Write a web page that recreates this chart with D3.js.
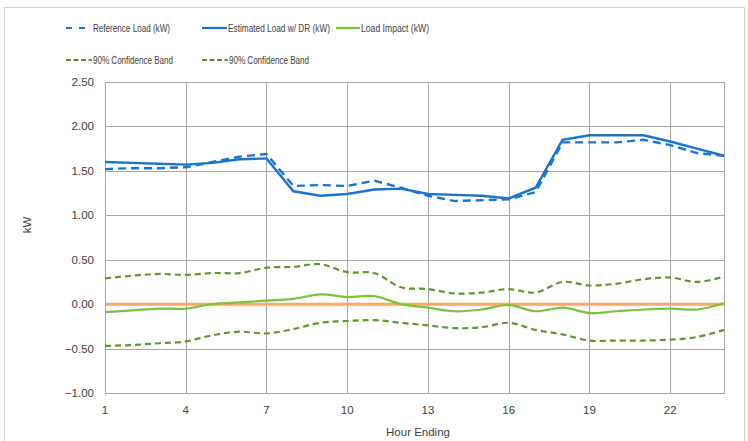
<!DOCTYPE html>
<html>
<head>
<meta charset="utf-8">
<script src="https://cdn.jsdelivr.net/npm/d3@7"></script>
<style>
  body { margin: 0; background: #fff; }
  text { font-family: "Liberation Sans", Arial, sans-serif; fill: #404040; }
</style>
</head>
<body>
<svg width="748" height="441"></svg>
<script>
// hours 1..24
var hours = d3.range(1, 25);
var referenceLoad = [1.52, 1.53, 1.53, 1.54, 1.60, 1.66, 1.69, 1.33, 1.34, 1.33, 1.39, 1.31,
                     1.22, 1.16, 1.17, 1.18, 1.26, 1.82, 1.82, 1.82, 1.85, 1.79, 1.70, 1.67];
var estimatedLoad = [1.60, 1.59, 1.58, 1.57, 1.59, 1.63, 1.64, 1.27, 1.22, 1.24, 1.29, 1.30,
                     1.24, 1.23, 1.22, 1.19, 1.31, 1.85, 1.90, 1.90, 1.90, 1.83, 1.75, 1.67];
var loadImpact = [-0.09, -0.07, -0.05, -0.05, 0.00, 0.02, 0.04, 0.06, 0.11, 0.08, 0.09, 0.00,
                  -0.04, -0.08, -0.06, -0.01, -0.08, -0.04, -0.10, -0.08, -0.06, -0.05, -0.06, 0.01];
var upperBand = [0.29, 0.32, 0.34, 0.33, 0.35, 0.35, 0.41, 0.42, 0.45, 0.36, 0.35, 0.19,
                 0.17, 0.12, 0.13, 0.17, 0.13, 0.25, 0.21, 0.23, 0.28, 0.30, 0.25, 0.31];
var lowerBand = [-0.47, -0.46, -0.44, -0.42, -0.35, -0.31, -0.33, -0.28, -0.21, -0.19, -0.18, -0.21,
                 -0.24, -0.27, -0.26, -0.21, -0.29, -0.34, -0.41, -0.41, -0.41, -0.40, -0.37, -0.29];
var xTicks = [1, 4, 7, 10, 13, 16, 19, 22];
var yTicks = [-1.0, -0.5, 0, 0.5, 1.0, 1.5, 2.0, 2.5];
var legendLabels = ["Reference Load (kW)", "Estimated Load w/ DR (kW)", "Load Impact (kW)",
                    "90% Confidence Band", "90% Confidence Band"];

var svg = d3.select("svg");

// outer chart border
svg.append("rect")
  .attr("x", 4.5).attr("y", 7.5)
  .attr("width", 740).attr("height", 440)
  .attr("fill", "none").attr("stroke", "#d0d0d0");

var x = d3.scaleLinear().domain([1, 24]).range([105, 724]);
var y = d3.scaleLinear().domain([-1, 2.5]).range([393, 82]);

// gridlines
var grid = svg.append("g");
grid.selectAll("line.h").data(yTicks).enter().append("line")
  .attr("x1", 105).attr("x2", 725)
  .attr("y1", function(d) { return Math.round(y(d)) + 0.5; })
  .attr("y2", function(d) { return Math.round(y(d)) + 0.5; })
  .attr("stroke", "#a6a6a6");
grid.selectAll("line.v").data(xTicks.concat([24])).enter().append("line")
  .attr("y1", 82).attr("y2", 393)
  .attr("x1", function(d) { return Math.round(x(d)) + 0.5; })
  .attr("x2", function(d) { return Math.round(x(d)) + 0.5; })
  .attr("stroke", "#a6a6a6");

// tick labels
svg.selectAll("text.yl").data(yTicks).enter().append("text")
  .attr("x", 94).attr("y", function(d) { return y(d) + 4; })
  .attr("text-anchor", "end").attr("font-size", 11.5)
  .text(function(d) { return d3.format(".2f")(d); });
svg.selectAll("text.xl").data(xTicks).enter().append("text")
  .attr("x", function(d) { return x(d); }).attr("y", 414)
  .attr("text-anchor", "middle").attr("font-size", 11.5)
  .text(function(d) { return d; });

svg.append("text").attr("transform", "translate(31,225) rotate(-90)")
  .attr("text-anchor", "middle").attr("font-size", 11.5).text("kW");
svg.append("text").attr("x", 418).attr("y", 436)
  .attr("text-anchor", "middle").attr("font-size", 11.5).text("Hour Ending");

// zero line
svg.append("line")
  .attr("x1", 105).attr("x2", 725).attr("y1", y(0)).attr("y2", y(0))
  .attr("stroke", "#f6a86e").attr("stroke-width", 3);

var series = [
  { values: upperBand, color: "#5e9632", width: 2.2, dash: "6,4", smooth: true },
  { values: lowerBand, color: "#5e9632", width: 2.2, dash: "6,4", smooth: true },
  { values: loadImpact, color: "#7dc13c", width: 2.2, dash: null, smooth: true },
  { values: referenceLoad, color: "#1a73cc", width: 2.4, dash: "8,5", smooth: false },
  { values: estimatedLoad, color: "#1a73cc", width: 2.4, dash: null, smooth: false }
];

series.forEach(function(s) {
  var line = d3.line()
    .x(function(d, i) { return x(hours[i]); })
    .y(function(d) { return y(d); })
    .curve(s.smooth ? d3.curveCatmullRom : d3.curveLinear);
  svg.append("path")
    .datum(s.values)
    .attr("d", line)
    .attr("fill", "none")
    .attr("stroke", s.color)
    .attr("stroke-width", s.width)
    .attr("stroke-dasharray", s.dash);
});

// legend
var legend = [
  { color: "#1a73cc", dash: "6,7", x1: 66, x2: 85, tx: 93, ty: 28, w: 77 },
  { color: "#1a73cc", dash: null, x1: 202, x2: 227, tx: 228, ty: 28, w: 102 },
  { color: "#7dc13c", dash: null, x1: 336, x2: 360, tx: 361, ty: 28, w: 68 },
  { color: "#5e9632", dash: "5,2.5", x1: 66, x2: 92, tx: 93, ty: 60, w: 80 },
  { color: "#5e9632", dash: "5,2.5", x1: 202, x2: 228, tx: 229, ty: 60, w: 80 }
];
legend.forEach(function(l, i) {
  svg.append("line")
    .attr("x1", l.x1).attr("x2", l.x2).attr("y1", l.ty).attr("y2", l.ty)
    .attr("stroke", l.color).attr("stroke-width", 2.2)
    .attr("stroke-dasharray", l.dash);
  svg.append("text").attr("x", l.tx).attr("y", l.ty + 4)
    .attr("font-size", 11.5)
    .attr("textLength", l.w).attr("lengthAdjust", "spacingAndGlyphs")
    .text(legendLabels[i]);
});
</script>
</body>
</html>
